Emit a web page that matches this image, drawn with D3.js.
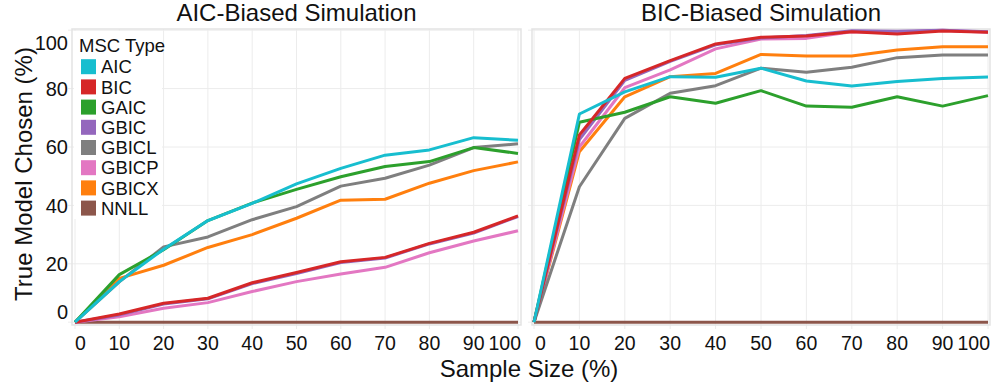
<!DOCTYPE html>
<html>
<head>
<meta charset="utf-8">
<script src="https://cdn.jsdelivr.net/npm/d3@7"></script>
<style>
  body { margin: 0; background: #fff; }
  text { font-family: "Liberation Sans", Arial, sans-serif; fill: #111; }
</style>
</head>
<body>
<div id="chart"></div>
<script>
// sample sizes on x axis
const sampleSizes = [0, 10, 20, 30, 40, 50, 60, 70, 80, 90, 100];
const xTicks = [0, 10, 20, 30, 40, 50, 60, 70, 80, 90, 100];
const yTicks = [0, 20, 40, 60, 80, 100];

const criteria = ['AIC', 'BIC', 'GAIC', 'GBIC', 'GBICL', 'GBICP', 'GBICX', 'NNLL'];
const colors = ['#17becf', '#d62728', '#2ca02c', '#9467bd', '#7f7f7f', '#e377c2', '#ff7f0e', '#8c564b'];

// AIC-biased simulation (% true model chosen)
const aicAIC   = [0, 13.9, 25.0, 34.8, 40.7, 47.4, 52.7, 57.2, 59.0, 63.2, 62.3];
const aicBIC   = [0, 2.8, 6.5, 8.2, 13.5, 17.0, 20.7, 22.2, 27.0, 30.8, 36.4];
const aicGAIC  = [0, 16.3, 24.8, 34.8, 40.8, 45.5, 49.8, 53.3, 55.0, 59.8, 57.8];
const aicGBIC  = [0, 2.5, 6.2, 8.0, 13.2, 16.7, 20.4, 22.0, 26.8, 30.5, 36.2];
const aicGBICL = [0, 13.8, 25.8, 29.2, 35.1, 39.6, 46.6, 49.3, 53.8, 59.8, 61.1];
const aicGBICP = [0, 1.9, 4.8, 6.7, 10.5, 13.9, 16.5, 18.8, 23.8, 27.8, 31.3];
const aicGBICX = [0, 15.0, 19.5, 25.6, 30.0, 35.6, 41.8, 42.1, 47.6, 51.9, 54.9];
const aicNNLL  = [0, 0, 0, 0, 0, 0, 0, 0, 0, 0, 0];

// BIC-biased simulation
const bicAIC   = [0, 71.3, 78.9, 84.1, 83.9, 87.0, 82.6, 80.9, 82.4, 83.5, 84.0];
const bicBIC   = [0, 64.1, 83.5, 89.6, 95.3, 97.6, 98.0, 99.5, 98.7, 99.7, 99.3];
const bicGAIC  = [0, 68.5, 71.9, 77.2, 75.0, 79.3, 74.0, 73.6, 77.2, 74.0, 77.6];
const bicGBIC  = [0, 62.5, 82.8, 89.3, 95.0, 97.3, 98.2, 99.8, 99.6, 100, 99.5];
const bicGBICL = [0, 46.4, 69.8, 78.4, 81.0, 87.0, 85.6, 87.3, 90.6, 91.5, 91.5];
const bicGBICP = [0, 60.0, 80.3, 86.4, 93.6, 97.0, 97.2, 99.5, 99.3, 100, 99.3];
const bicGBICX = [0, 58.4, 77.2, 84.1, 85.2, 91.7, 91.2, 91.2, 93.2, 94.3, 94.3];
const bicNNLL  = [0, 0, 0, 0, 0, 0, 0, 0, 0, 0, 0];

const aicSeries = [aicAIC, aicBIC, aicGAIC, aicGBIC, aicGBICL, aicGBICP, aicGBICX, aicNNLL];
const bicSeries = [bicAIC, bicBIC, bicGAIC, bicGBIC, bicGBICL, bicGBICP, bicGBICX, bicNNLL];

const width = 995, height = 392;
const panelTop = 29, panelBottom = 325;

const panels = [
  { title: 'AIC-Biased Simulation', left: 72, right: 521, pad: 3, series: aicSeries, yLabels: true },
  { title: 'BIC-Biased Simulation', left: 532, right: 990, pad: 2, series: bicSeries, yLabels: false },
];

const svg = d3.select('#chart')
  .append('svg')
  .attr('width', width)
  .attr('height', height);

const y = d3.scaleLinear().domain([0, 100]).range([panelBottom - 2.8, panelTop + 1.2]);

panels.forEach((p) => {
  const x = d3.scaleLinear().domain([0, 100]).range([p.left + p.pad, p.right - p.pad]);
  const g = svg.append('g');

  // grid
  g.selectAll('.vgrid').data(xTicks).enter().append('line')
    .attr('x1', (d) => x(d)).attr('x2', (d) => x(d))
    .attr('y1', panelTop).attr('y2', panelBottom + 4)
    .style('stroke', '#ececec').style('stroke-width', 1);
  g.selectAll('.hgrid').data(yTicks).enter().append('line')
    .attr('x1', p.left - 4).attr('x2', p.right)
    .attr('y1', (d) => y(d)).attr('y2', (d) => y(d))
    .style('stroke', '#ececec').style('stroke-width', 1);

  // panel border
  g.append('rect')
    .attr('x', p.left).attr('y', panelTop)
    .attr('width', p.right - p.left).attr('height', panelBottom - panelTop)
    .style('fill', 'none').style('stroke', '#e3e3e3').style('stroke-width', 1.5);

  // title
  g.append('text')
    .attr('x', (p.left + p.right) / 2).attr('y', 21)
    .attr('text-anchor', 'middle')
    .style('font-size', '24px')
    .text(p.title);

  // x tick labels, kept inside panel
  g.selectAll('.xlab').data(xTicks).enter().append('text')
    .attr('text-anchor', 'middle')
    .attr('y', 350)
    .style('font-size', '19.5px')
    .text((d) => d)
    .each(function (d) {
      const w = this.getComputedTextLength();
      const cx = Math.max(p.left + 3 + w / 2, Math.min(p.right - w / 2, x(d)));
      d3.select(this).attr('x', cx);
    });

  if (p.yLabels) {
    g.selectAll('.ylab').data(yTicks).enter().append('text')
      .attr('text-anchor', 'end')
      .attr('x', p.left - 4)
      .attr('y', (d) => Math.max(panelTop + 14, Math.min(panelBottom - 13, y(d))))
      .attr('dy', '0.36em')
      .style('font-size', '20px')
      .text((d) => d);
  }

  const line = d3.line()
    .x((d, i) => x(sampleSizes[i]))
    .y((d) => y(d));

  // drawn last-to-first so AIC ends on top
  const order = d3.range(criteria.length).reverse();
  g.selectAll('.series').data(order).enter().append('path')
    .attr('d', (k) => line(p.series[k]))
    .style('fill', 'none')
    .style('stroke', (k) => colors[k])
    .style('stroke-width', 3)
    .style('stroke-linejoin', 'round');
});

// legend inside the left panel
const legend = svg.append('g');
legend.append('rect')
  .attr('x', 74).attr('y', 31).attr('width', 88).attr('height', 188)
  .style('fill', '#fff');
legend.append('text')
  .attr('x', 79).attr('y', 51.5)
  .style('font-size', '18.5px')
  .text('MSC Type');
const item = legend.selectAll('.item').data(criteria).enter().append('g')
  .attr('transform', (d, i) => 'translate(81,' + (66.7 + i * 20.2) + ')');
item.append('rect')
  .attr('x', 0).attr('y', -7.5).attr('width', 15).attr('height', 15)
  .style('fill', (d, i) => colors[i]);
item.append('text')
  .attr('x', 20).attr('dy', '0.36em')
  .style('font-size', '18.5px')
  .text((d) => d);

// axis titles
svg.append('text')
  .attr('x', 529).attr('y', 377)
  .attr('text-anchor', 'middle')
  .style('font-size', '24px')
  .text('Sample Size (%)');
svg.append('text')
  .attr('transform', 'translate(32,174) rotate(-90)')
  .attr('text-anchor', 'middle')
  .style('font-size', '24px')
  .text('True Model Chosen (%)');
</script>
</body>
</html>
